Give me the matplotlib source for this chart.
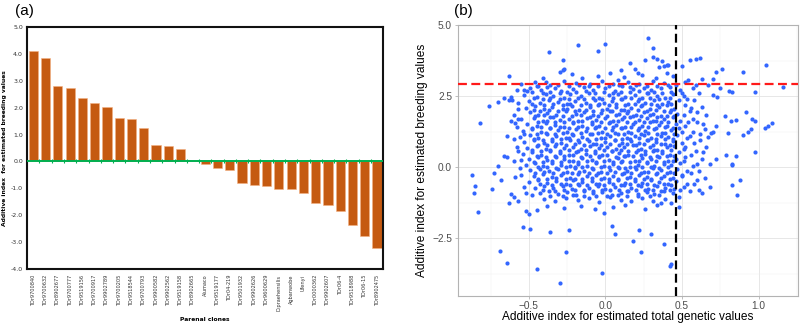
import matplotlib
matplotlib.use("Agg")
import matplotlib.pyplot as plt
import numpy as np

# ---- panel (a): additive index per parental clone ----
clones = ["TDr9700840", "TDr9700632", "TDr8902677", "TDr9700777", "TDr9519156",
          "TDr9700917", "TDr9902789", "TDr9700205", "TDr9518544", "TDr9700793",
          "TDr9900582", "TDr9902562", "TDr9519158", "TDr8902665", "Alumaco",
          "TDr9519177", "TDr04-219", "TDr9501932", "TDr9902626", "TDr9600629",
          "D.praehensilis", "Agbanwobe", "Ufenyi", "TDr0000362", "TDr9902607",
          "TDr06-4", "TDr9518988", "TDr06-15", "TDr8902475"]
breeding_index = [4.12, 3.85, 2.80, 2.74, 2.37, 2.16, 2.01, 1.60, 1.57, 1.25,
                  0.62, 0.56, 0.45, 0.02, -0.10, -0.23, -0.32, -0.80, -0.87, -0.90,
                  -1.01, -1.04, -1.18, -1.54, -1.61, -1.86, -2.38, -2.77, -3.22]
a_yticks = [-4, -3, -2, -1, 0, 1, 2, 3, 4, 5]

# ---- panel (b): total genetic index vs breeding index ----
# sparse points around the cloud
outer_points = [
    (-0.37, 4.06), (-0.18, 4.29), (-0.05, 4.09), (-0.28, 3.77), (-0.28, 3.43), (-0.27, 3.47),
    (-0.63, 3.21), (-0.82, 1.54), (-0.76, 2.15), (-0.70, 2.30), (-0.66, 2.42), (-0.63, 2.36),
    (-0.61, 2.37), (-0.64, 1.11), (-0.58, 0.70), (-0.64, 0.35), (-0.53, 1.18), (-0.62, 1.62),
    (-0.59, 1.55), (-0.57, 1.68), (-0.53, 2.70), (-0.51, 2.67), (-0.45, 2.86), (-0.39, 3.01),
    (-0.87, -0.28), (-0.85, -0.68), (-0.86, -0.92), (-0.83, -1.58), (-0.74, -0.79), (-0.69, -2.95),
    (-0.64, -3.39), (-0.54, -2.10), (-0.49, -2.19), (-0.45, -3.58), (-0.36, -2.29), (-0.30, -4.09),
    (-0.26, -2.99), (-0.24, -2.20), (-0.52, -1.55), (-0.50, -1.64), (-0.73, -0.22), (-0.70, 0.05),
    (-0.66, 0.38), (-0.68, -0.45), (-0.62, -0.95), (-0.63, -1.25), (-0.60, -1.05), (-0.57, -1.18),
    (-0.59, -0.35), (-0.56, -0.02), (-0.60, 0.22),
    (0.18, -2.61), (0.23, -2.98), (0.30, -2.35), (0.22, -2.20), (0.38, -2.72), (0.42, -3.48),
    (0.43, -3.42), (-0.02, -3.74), (0.04, -2.07), (0.06, -2.36), (-0.01, -1.61), (0.83, -0.63),
    (0.88, -0.47), (0.86, -0.98), (0.83, 0.09), (0.63, -0.91), (0.61, -0.81), (0.48, -1.05),
    (0.48, -1.40), (0.36, -1.25), (0.34, -1.33), (0.43, -1.25),
    (0.28, 4.56), (0.31, 4.21), (0.00, 4.33), (0.26, 3.78), (0.31, 3.86), (0.34, 3.80),
    (0.37, 3.72), (0.16, 3.67), (0.10, 3.42), (0.19, 3.47), (0.21, 3.30), (0.35, 3.51),
    (0.38, 3.57), (0.40, 3.59), (0.41, 3.60), (0.50, 3.56), (0.55, 3.77), (0.59, 3.79),
    (0.62, 3.84), (0.72, 3.35), (0.76, 3.46), (0.90, 3.36), (1.05, 3.60), (1.16, 2.83),
    (0.98, 2.63), (0.83, 2.66), (0.81, 2.69), (0.75, 2.79), (0.73, 2.46), (0.92, 1.95),
    (0.78, 1.81), (0.82, 1.61), (0.85, 1.67), (0.96, 1.71), (0.98, 1.64), (1.09, 1.54),
    (1.06, 1.43), (1.04, 1.37), (0.95, 1.35), (0.93, 1.25), (0.90, 1.14), (0.80, 1.21),
    (0.72, 1.43), (0.70, 1.23), (0.69, 1.19), (0.67, 1.05), (0.65, 1.35), (0.98, 0.53),
    (0.79, 0.41), (0.85, 0.39), (0.83, 0.12), (0.72, 0.27), (0.70, 3.09),
    (0.52, 2.20), (0.55, 1.98), (0.58, 2.35), (0.63, 2.10), (0.66, 1.85), (0.60, 1.60),
    (0.64, 1.50), (0.57, 1.25), (0.62, 0.95), (0.66, 0.70), (0.59, 0.55), (0.63, 0.30),
    (0.68, 0.10), (0.61, -0.15), (0.65, -0.40), (0.58, -0.60), (0.55, -0.85), (0.68, -0.70),
    (0.70, 2.55), (0.67, 2.90), (0.54, 3.05), (0.63, 3.10),
    # just right of the vertical cut-off
    (0.50, 2.62), (0.53, 2.41), (0.56, 2.09), (0.51, 1.82), (0.57, 1.71), (0.54, 1.57),
    (0.50, 1.22), (0.55, 1.11), (0.58, 0.83), (0.52, 0.72), (0.56, 0.44), (0.51, 0.21),
    (0.57, 0.05), (0.50, -0.33), (0.56, -0.22), (0.53, -0.58), (0.60, -0.47), (0.49, -0.82),
    (0.61, 2.62), (0.60, 1.95), (0.62, 1.18), (0.60, 0.12), (0.64, 0.52), (0.59, 2.88),
    # left flank
    (-0.57, 2.06), (-0.60, 1.82), (-0.58, 1.40), (-0.55, 0.25), (-0.57, 0.58), (-0.55, -0.28),
    (-0.53, -0.70), (-0.48, -1.00), (-0.52, -0.90), (-0.60, 0.98),
]

# dense core of the cloud, read band by band
core_points = [
    (-0.41, 3.15), (-0.22, 3.28), (-0.15, 3.12), (-0.05, 3.21), (0.03, 3.32), (0.12, 3.18),
    (0.24, 3.24), (0.33, 3.13), (0.44, 3.19), (-0.30, 3.35), (0.08, 3.05), (0.40, 3.31),
    (-0.55, 2.93), (-0.46, 2.98), (-0.36, 2.90), (-0.27, 3.02), (-0.19, 2.96), (-0.10, 2.91),
    (-0.02, 3.04), (0.05, 2.94), (0.15, 2.99), (0.22, 2.92), (0.31, 3.03), (0.38, 2.95),
    (0.46, 2.90), (0.52, 3.00),
    (-0.58, 2.72), (-0.49, 2.78), (-0.42, 2.70), (-0.33, 2.80), (-0.29, 2.69), (-0.21, 2.76),
    (-0.14, 2.82), (-0.08, 2.71), (0.00, 2.79), (0.06, 2.68), (0.11, 2.84), (0.18, 2.74),
    (0.25, 2.80), (0.30, 2.70), (0.36, 2.77), (0.42, 2.83), (0.49, 2.72), (0.57, 2.78),
    (-0.62, 2.48), (-0.53, 2.55), (-0.45, 2.46), (-0.39, 2.58), (-0.34, 2.50), (-0.27, 2.44),
    (-0.23, 2.56), (-0.16, 2.49), (-0.11, 2.60), (-0.04, 2.45), (0.02, 2.53), (0.08, 2.59),
    (0.13, 2.47), (0.19, 2.55), (0.24, 2.43), (0.28, 2.61), (0.34, 2.50), (0.39, 2.44),
    (0.44, 2.57), (0.51, 2.49),
    (-0.57, 2.27), (-0.50, 2.34), (-0.43, 2.25), (-0.37, 2.36), (-0.31, 2.29), (-0.25, 2.22),
    (-0.20, 2.33), (-0.13, 2.26), (-0.07, 2.37), (-0.01, 2.24), (0.04, 2.31), (0.10, 2.38),
    (0.15, 2.23), (0.21, 2.32), (0.26, 2.27), (0.32, 2.36), (0.37, 2.22), (0.41, 2.30),
    (0.48, 2.35),
    (-0.52, 2.08), (-0.46, 2.14), (-0.40, 2.03), (-0.35, 2.12), (-0.28, 2.06), (-0.22, 2.16),
    (-0.17, 2.02), (-0.10, 2.10), (-0.05, 2.17), (0.01, 2.05), (0.07, 2.13), (0.12, 2.01),
    (0.17, 2.09), (0.23, 2.15), (0.29, 2.04), (0.35, 2.11), (0.40, 2.18), (0.45, 2.06),
    (-0.49, 1.94), (-0.44, 1.85), (-0.38, 1.92), (-0.32, 1.83), (-0.26, 1.96), (-0.19, 1.87),
    (-0.14, 1.93), (-0.08, 1.82), (-0.03, 1.90), (0.03, 1.97), (0.09, 1.86), (0.14, 1.92),
    (0.20, 1.84), (0.25, 1.95), (0.31, 1.88), (0.36, 1.81), (0.42, 1.93), (0.47, 1.86),
    (-0.55, 1.68), (-0.47, 1.72), (-0.41, 1.64), (-0.36, 1.75), (-0.30, 1.66), (-0.24, 1.71),
    (-0.18, 1.62), (-0.12, 1.74), (-0.06, 1.67), (0.00, 1.73), (0.05, 1.63), (0.11, 1.70),
    (0.16, 1.76), (0.22, 1.65), (0.27, 1.72), (0.33, 1.61), (0.38, 1.69), (0.44, 1.75),
    (0.49, 1.64),
    (-0.51, 1.53), (-0.45, 1.44), (-0.39, 1.55), (-0.33, 1.49), (-0.27, 1.42), (-0.21, 1.54),
    (-0.15, 1.46), (-0.09, 1.51), (-0.04, 1.43), (0.02, 1.56), (0.07, 1.48), (0.13, 1.41),
    (0.18, 1.52), (0.24, 1.45), (0.29, 1.57), (0.35, 1.48), (0.40, 1.43), (0.46, 1.53),
    (0.52, 1.46),
    (-0.54, 1.28), (-0.48, 1.34), (-0.42, 1.25), (-0.36, 1.36), (-0.31, 1.29), (-0.25, 1.22),
    (-0.19, 1.33), (-0.13, 1.26), (-0.07, 1.37), (-0.02, 1.24), (0.04, 1.31), (0.10, 1.38),
    (0.15, 1.23), (0.21, 1.32), (0.26, 1.27), (0.32, 1.35), (0.37, 1.21), (0.43, 1.30),
    (0.48, 1.36),
    (-0.56, 1.07), (-0.49, 1.13), (-0.44, 1.04), (-0.38, 1.15), (-0.32, 1.08), (-0.26, 1.02),
    (-0.21, 1.12), (-0.15, 1.05), (-0.09, 1.16), (-0.03, 1.03), (0.03, 1.10), (0.08, 1.17),
    (0.14, 1.01), (0.19, 1.09), (0.25, 1.14), (0.30, 1.04), (0.36, 1.11), (0.41, 1.06),
    (0.47, 1.13), (0.53, 1.02),
    (-0.53, 0.88), (-0.47, 0.94), (-0.40, 0.85), (-0.35, 0.92), (-0.29, 0.83), (-0.23, 0.96),
    (-0.17, 0.87), (-0.11, 0.93), (-0.06, 0.82), (0.00, 0.90), (0.06, 0.97), (0.11, 0.86),
    (0.17, 0.92), (0.22, 0.84), (0.28, 0.95), (0.33, 0.88), (0.39, 0.81), (0.44, 0.93),
    (0.50, 0.86),
    (-0.51, 0.68), (-0.45, 0.73), (-0.39, 0.64), (-0.33, 0.75), (-0.27, 0.66), (-0.21, 0.71),
    (-0.16, 0.62), (-0.10, 0.74), (-0.04, 0.67), (0.01, 0.72), (0.07, 0.63), (0.12, 0.70),
    (0.18, 0.76), (0.23, 0.65), (0.29, 0.71), (0.34, 0.61), (0.40, 0.69), (0.45, 0.75),
    (0.51, 0.64),
    (-0.54, 0.47), (-0.48, 0.53), (-0.42, 0.44), (-0.36, 0.55), (-0.30, 0.49), (-0.24, 0.42),
    (-0.19, 0.54), (-0.13, 0.46), (-0.07, 0.51), (-0.02, 0.43), (0.04, 0.56), (0.09, 0.48),
    (0.15, 0.41), (0.20, 0.52), (0.26, 0.45), (0.31, 0.57), (0.37, 0.48), (0.42, 0.43),
    (0.48, 0.53),
    (-0.50, 0.28), (-0.44, 0.34), (-0.38, 0.25), (-0.32, 0.36), (-0.27, 0.29), (-0.21, 0.22),
    (-0.15, 0.33), (-0.09, 0.26), (-0.04, 0.37), (0.02, 0.24), (0.08, 0.31), (0.13, 0.38),
    (0.19, 0.23), (0.24, 0.32), (0.30, 0.27), (0.35, 0.35), (0.41, 0.21), (0.46, 0.30),
    (0.52, 0.36),
    (-0.52, 0.07), (-0.46, 0.13), (-0.41, 0.04), (-0.35, 0.15), (-0.29, 0.08), (-0.23, 0.02),
    (-0.18, 0.12), (-0.12, 0.05), (-0.06, 0.16), (-0.01, 0.03), (0.05, 0.10), (0.10, 0.17),
    (0.16, 0.01), (0.21, 0.09), (0.27, 0.14), (0.32, 0.04), (0.38, 0.11), (0.43, 0.06),
    (0.49, 0.13),
    (-0.49, -0.12), (-0.43, -0.06), (-0.37, -0.15), (-0.31, -0.08), (-0.25, -0.17), (-0.20, -0.04),
    (-0.14, -0.13), (-0.08, -0.07), (-0.03, -0.18), (0.03, -0.10), (0.09, -0.03), (0.14, -0.14),
    (0.20, -0.08), (0.25, -0.16), (0.31, -0.05), (0.36, -0.12), (0.42, -0.19), (0.47, -0.07),
    (0.53, -0.13),
    (-0.47, -0.32), (-0.41, -0.26), (-0.35, -0.35), (-0.29, -0.28), (-0.23, -0.37), (-0.18, -0.24),
    (-0.12, -0.33), (-0.06, -0.27), (-0.01, -0.38), (0.05, -0.30), (0.11, -0.23), (0.16, -0.34),
    (0.22, -0.28), (0.27, -0.36), (0.33, -0.25), (0.38, -0.32), (0.44, -0.39), (0.50, -0.27),
    (-0.50, -0.53), (-0.44, -0.47), (-0.38, -0.56), (-0.32, -0.49), (-0.26, -0.58), (-0.21, -0.45),
    (-0.15, -0.54), (-0.09, -0.48), (-0.04, -0.59), (0.02, -0.51), (0.08, -0.44), (0.13, -0.55),
    (0.19, -0.49), (0.24, -0.57), (0.30, -0.46), (0.35, -0.53), (0.41, -0.60), (0.46, -0.48),
    (-0.46, -0.72), (-0.40, -0.66), (-0.34, -0.75), (-0.28, -0.68), (-0.22, -0.77), (-0.17, -0.64),
    (-0.11, -0.73), (-0.05, -0.67), (0.00, -0.78), (0.06, -0.70), (0.12, -0.63), (0.17, -0.74),
    (0.23, -0.68), (0.28, -0.76), (0.34, -0.65), (0.39, -0.72), (0.45, -0.79), (0.51, -0.69),
    (-0.43, -0.92), (-0.37, -0.86), (-0.31, -0.95), (-0.25, -0.88), (-0.19, -0.97), (-0.14, -0.84),
    (-0.08, -0.93), (-0.02, -0.87), (0.04, -0.98), (0.10, -0.90), (0.15, -0.83), (0.21, -0.94),
    (0.27, -0.88), (0.32, -0.96), (0.38, -0.85), (0.44, -0.91),
    (-0.40, -1.12), (-0.33, -1.20), (-0.26, -1.08), (-0.18, -1.17), (-0.11, -1.10), (-0.04, -1.22),
    (0.03, -1.06), (0.10, -1.15), (0.17, -1.21), (0.24, -1.09), (0.31, -1.18), (0.39, -1.12),
    (-0.38, -1.38), (-0.27, -1.45), (-0.16, -1.36), (-0.07, -1.48), (0.05, -1.41), (0.13, -1.34),
    (0.26, -1.47), (-0.45, -1.50),
]

# second, interleaved layer of the densest part
core_fill = [
    (-0.44, 2.87), (-0.38, 2.83), (-0.31, 2.88), (-0.24, 2.85), (-0.17, 2.89), (-0.11, 2.84),
    (-0.05, 2.87), (0.02, 2.86), (0.09, 2.89), (0.16, 2.83), (0.20, 2.88), (0.27, 2.86),
    (0.34, 2.84), (0.41, 2.89),
    (-0.48, 2.64), (-0.41, 2.61), (-0.36, 2.66), (-0.30, 2.60), (-0.25, 2.65), (-0.19, 2.63),
    (-0.13, 2.67), (-0.07, 2.62), (-0.01, 2.66), (0.05, 2.61), (0.10, 2.65), (0.16, 2.63),
    (0.22, 2.67), (0.27, 2.62), (0.32, 2.66), (0.37, 2.61), (0.43, 2.65),
    (-0.47, 2.42), (-0.41, 2.39), (-0.36, 2.43), (-0.30, 2.38), (-0.24, 2.41), (-0.18, 2.44),
    (-0.14, 2.39), (-0.08, 2.42), (-0.02, 2.38), (0.05, 2.43), (0.11, 2.40), (0.17, 2.44),
    (0.22, 2.39), (0.29, 2.42), (0.35, 2.40), (0.42, 2.43),
    (-0.48, 2.21), (-0.40, 2.18), (-0.34, 2.22), (-0.28, 2.19), (-0.23, 2.23), (-0.16, 2.20),
    (-0.10, 2.18), (-0.04, 2.21), (0.02, 2.19), (0.07, 2.22), (0.13, 2.19), (0.19, 2.21),
    (0.24, 2.18), (0.30, 2.22), (0.34, 2.19), (0.43, 2.21),
    (-0.47, 2.01), (-0.43, 1.98), (-0.37, 2.02), (-0.31, 1.99), (-0.25, 2.03), (-0.20, 1.98),
    (-0.13, 2.01), (-0.08, 1.99), (-0.02, 2.02), (0.04, 1.99), (0.10, 2.02), (0.15, 1.98),
    (0.21, 2.01), (0.27, 1.99), (0.33, 2.02), (0.38, 1.98), (0.43, 2.01),
    (-0.46, 1.79), (-0.40, 1.82), (-0.34, 1.78), (-0.28, 1.81), (-0.22, 1.79), (-0.16, 1.82),
    (-0.10, 1.78), (-0.05, 1.81), (0.01, 1.79), (0.07, 1.82), (0.12, 1.78), (0.18, 1.81),
    (0.23, 1.79), (0.29, 1.82), (0.34, 1.78), (0.40, 1.80), (0.45, 1.79),
    (-0.44, 1.58), (-0.38, 1.61), (-0.33, 1.57), (-0.27, 1.60), (-0.21, 1.58), (-0.15, 1.61),
    (-0.09, 1.57), (-0.03, 1.60), (0.03, 1.58), (0.08, 1.61), (0.14, 1.57), (0.19, 1.60),
    (0.25, 1.58), (0.31, 1.61), (0.36, 1.57), (0.41, 1.60),
    (-0.48, 1.39), (-0.42, 1.41), (-0.36, 1.38), (-0.30, 1.40), (-0.24, 1.37), (-0.18, 1.41),
    (-0.12, 1.39), (-0.06, 1.40), (0.00, 1.38), (0.05, 1.41), (0.11, 1.39), (0.17, 1.40),
    (0.22, 1.37), (0.28, 1.41), (0.33, 1.39), (0.39, 1.40), (0.44, 1.38),
    (-0.45, 1.18), (-0.39, 1.21), (-0.33, 1.17), (-0.28, 1.20), (-0.22, 1.18), (-0.16, 1.21),
    (-0.10, 1.17), (-0.05, 1.20), (0.01, 1.18), (0.06, 1.21), (0.12, 1.17), (0.17, 1.20),
    (0.23, 1.18), (0.28, 1.21), (0.34, 1.17), (0.39, 1.20), (0.45, 1.18),
    (-0.47, 0.99), (-0.41, 0.97), (-0.35, 1.00), (-0.29, 0.98), (-0.24, 1.01), (-0.18, 0.97),
    (-0.12, 1.00), (-0.06, 0.98), (0.00, 1.01), (0.06, 0.97), (0.11, 1.00), (0.16, 0.98),
    (0.22, 1.01), (0.27, 0.97), (0.33, 1.00), (0.39, 0.98), (0.44, 1.00),
    (-0.44, 0.79), (-0.38, 0.77), (-0.32, 0.80), (-0.26, 0.78), (-0.20, 0.81), (-0.14, 0.77),
    (-0.08, 0.80), (-0.03, 0.78), (0.03, 0.81), (0.09, 0.77), (0.14, 0.80), (0.20, 0.78),
    (0.25, 0.81), (0.31, 0.77), (0.36, 0.80), (0.42, 0.78),
    (-0.48, 0.59), (-0.42, 0.57), (-0.36, 0.60), (-0.30, 0.58), (-0.24, 0.61), (-0.18, 0.57),
    (-0.13, 0.60), (-0.07, 0.58), (-0.01, 0.61), (0.04, 0.57), (0.10, 0.60), (0.15, 0.58),
    (0.21, 0.61), (0.26, 0.57), (0.32, 0.60), (0.37, 0.58), (0.43, 0.60),
    (-0.45, 0.39), (-0.39, 0.37), (-0.33, 0.40), (-0.27, 0.38), (-0.21, 0.41), (-0.16, 0.37),
    (-0.10, 0.40), (-0.04, 0.38), (0.01, 0.41), (0.07, 0.37), (0.12, 0.40), (0.18, 0.38),
    (0.23, 0.41), (0.29, 0.37), (0.34, 0.40), (0.40, 0.38), (0.45, 0.40),
    (-0.47, 0.19), (-0.41, 0.17), (-0.35, 0.20), (-0.29, 0.18), (-0.24, 0.21), (-0.18, 0.17),
    (-0.12, 0.20), (-0.06, 0.18), (-0.01, 0.21), (0.05, 0.17), (0.11, 0.20), (0.16, 0.18),
    (0.22, 0.21), (0.27, 0.17), (0.33, 0.20), (0.38, 0.18), (0.44, 0.20),
    (-0.44, -0.01), (-0.38, 0.01), (-0.32, -0.02), (-0.26, 0.00), (-0.20, -0.01), (-0.15, 0.01),
    (-0.09, -0.02), (-0.03, 0.00), (0.02, -0.01), (0.08, 0.01), (0.13, -0.02), (0.19, 0.00),
    (0.24, -0.01), (0.30, 0.01), (0.35, -0.02), (0.41, 0.00),
    (-0.46, -0.21), (-0.40, -0.19), (-0.34, -0.22), (-0.28, -0.20), (-0.22, -0.21), (-0.17, -0.19),
    (-0.11, -0.22), (-0.05, -0.20), (0.01, -0.21), (0.06, -0.19), (0.12, -0.22), (0.17, -0.20),
    (0.23, -0.21), (0.28, -0.19), (0.34, -0.22), (0.40, -0.20), (0.45, -0.21),
    (-0.44, -0.41), (-0.38, -0.43), (-0.32, -0.40), (-0.26, -0.42), (-0.20, -0.41), (-0.15, -0.43),
    (-0.09, -0.40), (-0.03, -0.42), (0.02, -0.41), (0.08, -0.43), (0.14, -0.40), (0.19, -0.42),
    (0.25, -0.41), (0.30, -0.43), (0.36, -0.40), (0.42, -0.42),
    (-0.43, -0.61), (-0.35, -0.63), (-0.29, -0.60), (-0.23, -0.62), (-0.18, -0.61), (-0.12, -0.63),
    (-0.06, -0.60), (-0.01, -0.62), (0.05, -0.61), (0.10, -0.63), (0.16, -0.60), (0.21, -0.62),
    (0.27, -0.61), (0.32, -0.63), (0.38, -0.60), (0.43, -0.62),
    (-0.41, -0.81), (-0.33, -0.83), (-0.27, -0.80), (-0.20, -0.82), (-0.14, -0.81), (-0.08, -0.83),
    (-0.02, -0.80), (0.03, -0.82), (0.09, -0.81), (0.14, -0.83), (0.20, -0.80), (0.26, -0.82),
    (0.31, -0.81), (0.36, -0.83), (0.42, -0.80),
    (-0.36, -1.01), (-0.28, -1.03), (-0.21, -1.00), (-0.14, -1.02), (-0.06, -1.01), (0.01, -1.03),
    (0.08, -1.00), (0.14, -1.02), (0.21, -1.01), (0.29, -1.03), (0.35, -1.00),
]

b_hline = 2.94   # red dashed cut-off (breeding)
b_vline = 0.46   # black dashed cut-off (total genetic)

fig = plt.figure(figsize=(8, 3.26), dpi=100)

# ================= panel (a) =================
ax1 = fig.add_axes([0.034, 0.175, 0.445, 0.742])
x = np.arange(len(clones))
ax1.bar(x, breeding_index, width=0.75, color="#C55A11", edgecolor="#F4B183", linewidth=0.4, zorder=2)
ax1.axhline(0, color="#00B050", linewidth=1.4, zorder=3)
ax1.plot(x[:-1] + 0.5, np.zeros(len(x) - 1), ls="none", marker="|", color="#00B050",
         markersize=2.2, markeredgewidth=0.8, zorder=3)
ax1.set_xlim(-0.5, len(clones) - 0.5)
ax1.set_ylim(-4, 5)
ax1.set_yticks(a_yticks)
ax1.set_yticklabels([f"{v:.1f}" for v in a_yticks], fontsize=4.5, color="#333333")
ax1.set_xticks(x)
ax1.set_xticklabels(clones, rotation=90, fontsize=3.6, color="#333333")
ax1.tick_params(axis="y", length=0, pad=3)
ax1.tick_params(axis="x", length=0, pad=4)
for s in ax1.spines.values():
    s.set_linewidth(1.5)
    s.set_color("#111111")
ax1.set_ylabel("Additive index  for estimated breeding values", fontsize=4.3,
               fontweight="bold")
ax1.yaxis.set_label_coords(-0.056, 0.5)
ax1.set_xlabel("Parenal clones", fontsize=4.3, fontweight="bold", labelpad=5)
fig.text(0.019, 0.965, "(a)", fontsize=11, ha="left", va="center", family="Liberation Sans")

# ================= panel (b) =================
pts = outer_points + core_points + core_fill
gx = [p[0] for p in pts]
by = [p[1] for p in pts]

ax2 = fig.add_axes([0.572, 0.093, 0.4255, 0.83])
ax2.set_xlim(-0.966, 1.258)
ax2.set_ylim(-4.53, 5.0)
ax2.set_xticks([-0.5, 0.0, 0.5, 1.0])
ax2.set_xticks([-0.75, -0.25, 0.25, 0.75, 1.25], minor=True)
ax2.set_yticks([-2.5, 0.0, 2.5, 5.0])
ax2.set_yticks([-3.75, -1.25, 1.25, 3.75], minor=True)
ax2.grid(which="major", color="#E3E3E3", linewidth=0.6)
ax2.grid(which="minor", color="#EFEFEF", linewidth=0.35)
ax2.set_axisbelow(True)
ax2.scatter(gx, by, s=9, color="#3366FF", linewidths=0, zorder=2)
ax2.axhline(b_hline, color="#FF1A1A", linestyle=(0, (4, 2)), linewidth=1.6, zorder=3)
ax2.axvline(b_vline, color="black", linestyle=(0, (4, 2)), linewidth=1.6, zorder=3)
for s in ax2.spines.values():
    s.set_color("#B3B3B3")
    s.set_linewidth(0.8)
ax2.tick_params(which="major", length=2.5, width=0.6, color="#B3B3B3",
                labelsize=7.3, labelcolor="#4D4D4D", pad=1.5)
ax2.tick_params(which="minor", length=0)
for lab in ax2.get_xticklabels() + ax2.get_yticklabels():
    lab.set_family("Liberation Sans")
ax2.set_xlabel("Additive index for estimated total genetic values", fontsize=8.6,
               family="Liberation Sans", labelpad=0)
ax2.set_ylabel("Additive index for estimated breeding values", fontsize=8.6,
               family="Liberation Sans", labelpad=3)
fig.text(0.568, 0.965, "(b)", fontsize=11, ha="left", va="center", family="Liberation Sans")

fig.savefig("out.png", dpi=100)
